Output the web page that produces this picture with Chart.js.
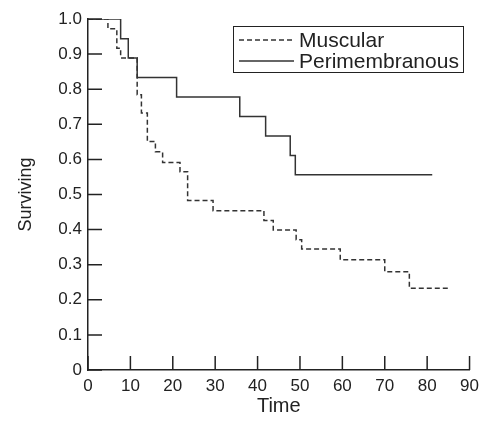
<!DOCTYPE html>
<html>
<head>
<meta charset="utf-8">
<script src="https://cdn.jsdelivr.net/npm/chart.js@4"></script>
<style>
  html, body { margin: 0; padding: 0; background: #fff; }
</style>
</head>
<body>
<canvas id="kmChart" width="485" height="426"></canvas>
<script>
// Kaplan-Meier 曲線資料 (時間, 存活率)
const musTimes = [0, 4.7, 6.8, 7.7, 11.6, 12.6, 14.0, 15.9, 17.6, 21.7, 23.5, 29.5, 41.5, 43.7, 49.1, 50.4, 59.5, 70.0, 75.8, 85.2];
const musSurv  = [1, 0.972, 0.917, 0.889, 0.784, 0.732, 0.651, 0.622, 0.591, 0.565, 0.483, 0.454, 0.426, 0.399, 0.371, 0.345, 0.314, 0.280, 0.233, 0.233];

const periTimes = [0, 7.7, 9.5, 11.6, 20.9, 35.8, 41.9, 47.7, 48.9, 81.2];
const periSurv  = [1, 0.944, 0.889, 0.833, 0.778, 0.722, 0.667, 0.611, 0.556, 0.556];

const seriesLabels = ["Muscular", "Perimembranous"];
const xTicks = [0, 10, 20, 30, 40, 50, 60, 70, 80, 90];
const yTicks = [0, 0.1, 0.2, 0.3, 0.4, 0.5, 0.6, 0.7, 0.8, 0.9, 1.0];

const FONT = "'Liberation Sans', Arial, Helvetica, sans-serif";
const INK = "#222";

function toPoints(times, surv) {
    return times.map((t, i) => ({ x: t, y: surv[i] }));
}

// 刻度往圖內畫
const innerTicks = {
    id: "innerTicks",
    afterDraw(chart) {
        const ctx = chart.ctx;
        const xs = chart.scales.x, ys = chart.scales.y;
        ctx.save();
        ctx.strokeStyle = INK;
        ctx.lineWidth = 1.5;
        ctx.beginPath();
        xTicks.forEach(v => {
            const px = xs.getPixelForValue(v);
            ctx.moveTo(px, ys.bottom);
            ctx.lineTo(px, ys.bottom - 14);
        });
        yTicks.forEach(v => {
            const py = ys.getPixelForValue(v);
            ctx.moveTo(xs.left, py);
            ctx.lineTo(xs.left + 14, py);
        });
        ctx.stroke();
        ctx.restore();
    }
};

// 有框的圖例
const boxLegend = {
    id: "boxLegend",
    afterDraw(chart) {
        const ctx = chart.ctx;
        const box = { x: 233.5, y: 26.5, w: 230, h: 46 };
        ctx.save();
        ctx.fillStyle = "#fff";
        ctx.fillRect(box.x, box.y, box.w, box.h);
        ctx.strokeStyle = INK;
        ctx.lineWidth = 1;
        ctx.strokeRect(box.x, box.y, box.w, box.h);
        ctx.font = "21px " + FONT;
        ctx.textBaseline = "middle";
        ctx.fillStyle = INK;
        chart.data.datasets.forEach((ds, i) => {
            const y = 40 + i * 21;
            ctx.beginPath();
            ctx.setLineDash(ds.borderDash || []);
            ctx.strokeStyle = ds.borderColor;
            ctx.lineWidth = 1.3;
            ctx.moveTo(239, y);
            ctx.lineTo(294, y);
            ctx.stroke();
            ctx.setLineDash([]);
            ctx.fillText(ds.label, 299, y + 1);
        });
        ctx.restore();
    }
};

new Chart(document.getElementById("kmChart"), {
    type: "line",
    data: {
        datasets: [
            {
                label: seriesLabels[0],
                data: toPoints(musTimes, musSurv),
                stepped: "before",
                borderColor: "#333",
                borderWidth: 1.5,
                borderDash: [5, 3],
                pointRadius: 0,
                fill: false
            },
            {
                label: seriesLabels[1],
                data: toPoints(periTimes, periSurv),
                stepped: "before",
                borderColor: "#333",
                borderWidth: 1.5,
                pointRadius: 0,
                fill: false
            }
        ]
    },
    options: {
        responsive: false,
        animation: false,
        layout: { padding: { left: 0, right: 10, top: 19, bottom: 0 } },
        plugins: {
            legend: { display: false },
            tooltip: { enabled: false }
        },
        scales: {
            x: {
                type: "linear",
                min: 0,
                max: 90,
                afterFit(scale) { scale.height = 56; },
                afterBuildTicks(scale) { scale.ticks = xTicks.map(v => ({ value: v })); },
                grid: { display: true, drawOnChartArea: false, drawTicks: false },
                border: { display: true, color: INK, width: 1.5 },
                ticks: { color: INK, padding: 6, font: { family: FONT, size: 17 }, maxRotation: 0 },
                title: {
                    display: true,
                    text: "Time",
                    color: INK,
                    font: { family: FONT, size: 20 },
                    padding: { top: 4, bottom: 8 }
                }
            },
            y: {
                type: "linear",
                min: 0,
                max: 1,
                afterFit(scale) { scale.width = 88; },
                afterBuildTicks(scale) { scale.ticks = yTicks.map(v => ({ value: v })); },
                grid: { display: true, drawOnChartArea: false, drawTicks: false },
                border: { display: true, color: INK, width: 1.5 },
                ticks: {
                    color: INK,
                    padding: 6,
                    font: { family: FONT, size: 17 },
                    callback: v => v === 0 ? "0" : v.toFixed(1)
                },
                title: {
                    display: true,
                    text: "Surviving",
                    color: INK,
                    font: { family: FONT, size: 18 },
                    padding: { top: 15, bottom: 0 }
                }
            }
        }
    },
    plugins: [innerTicks, boxLegend]
});
</script>
</body>
</html>
